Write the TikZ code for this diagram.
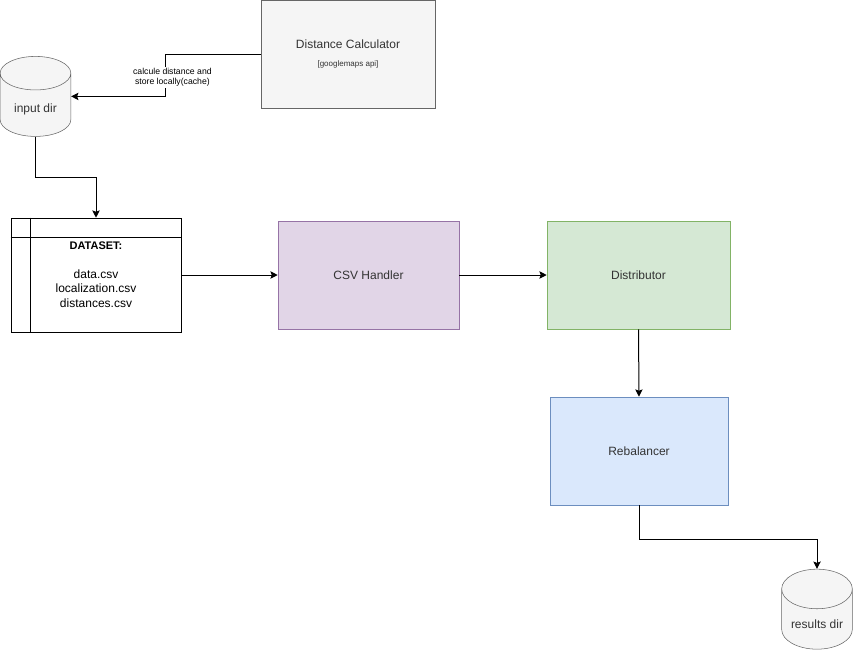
\documentclass[tikz,border=0pt]{standalone}
\usepackage{fontspec}
\setmainfont{Liberation Sans}
\usepackage{tikz}
\usetikzlibrary{positioning, arrows.meta, shapes.geometric, calc}
\definecolor{calcfill}{HTML}{F5F5F5}
\definecolor{calcdraw}{HTML}{666666}
\definecolor{csvfill}{HTML}{E1D5E7}
\definecolor{csvdraw}{HTML}{9673A6}
\definecolor{distfill}{HTML}{D5E8D4}
\definecolor{distdraw}{HTML}{82B366}
\definecolor{rebfill}{HTML}{DAE8FC}
\definecolor{rebdraw}{HTML}{6C8EBF}
\definecolor{txtgray}{HTML}{333333}

\begin{document}
\begin{tikzpicture}[
  x=0.75pt, y=-0.75pt,
  block/.style={draw, minimum width=#1*0.75pt, minimum height=81pt, align=center, font=\fontsize{9}{11}\selectfont, text=txtgray},
  store/.style={cylinder, shape border rotate=90, aspect=0.65, draw=calcdraw, fill=calcfill, minimum width=53pt, minimum height=60pt, font=\fontsize{9}{11}\selectfont, text=txtgray},
  arr/.style={-{Stealth[length=5.5pt, width=5.5pt, inset=1pt]}, line width=0.75pt},
  lbl/.style={fill=white, inner sep=1pt, align=center, font=\fontsize{6.5}{8}\selectfont}
]
    \useasboundingbox (0,0) rectangle (853,653);

    \node[block=174, fill=calcfill, draw=calcdraw] (distcalc) at (348,54)
        {Distance Calculator\\[3pt]{\fontsize{6}{7}\selectfont [googlemaps api]}};
    \node[store] (inputdir) at (35.5,109) {input dir};

    \node[draw, minimum width=127.5pt, minimum height=85.5pt, align=center,
          font=\fontsize{9}{10.9}\selectfont] (dataset) at (96,275)
        {\\[-6pt]{\fontsize{8.25}{10}\selectfont\bfseries DATASET:}\\ \\data.csv\\localization.csv\\distances.csv};
    \draw ($(dataset.north west)+(0,20)$) -- ($(dataset.north east)+(0,20)$);
    \draw ($(dataset.north west)+(20,0)$) -- ($(dataset.south west)+(20,0)$);

    \node[block=181, fill=csvfill, draw=csvdraw] (csv) at (368.5,275) {CSV Handler};
    \node[block=183, fill=distfill, draw=distdraw] (distrib) at (638.5,275) {Distributor};
    \node[block=178, fill=rebfill, draw=rebdraw] (rebal) at (639,451) {Rebalancer};
    \node[store] (results) at (817,624) {results dir};

    \draw[arr] (distcalc.west) -- ++(-95,0)
        |- node[lbl, pos=0.25, xshift=5pt, yshift=-1.5pt] {calcule distance and\\store locally(cache)} (inputdir.shape center -| inputdir.east);
    \draw[arr] (inputdir.south) -- ++(0,41) -| (dataset.north);
    \draw[arr] (dataset.east) -- (csv.west);
    \draw[arr] (csv.east) -- (distrib.west);
    \draw[arr] (distrib.south) -- (rebal.north);
    \draw[arr] (rebal.south) -- ++(0,34) -| (results.north);
\end{tikzpicture}
\end{document}
